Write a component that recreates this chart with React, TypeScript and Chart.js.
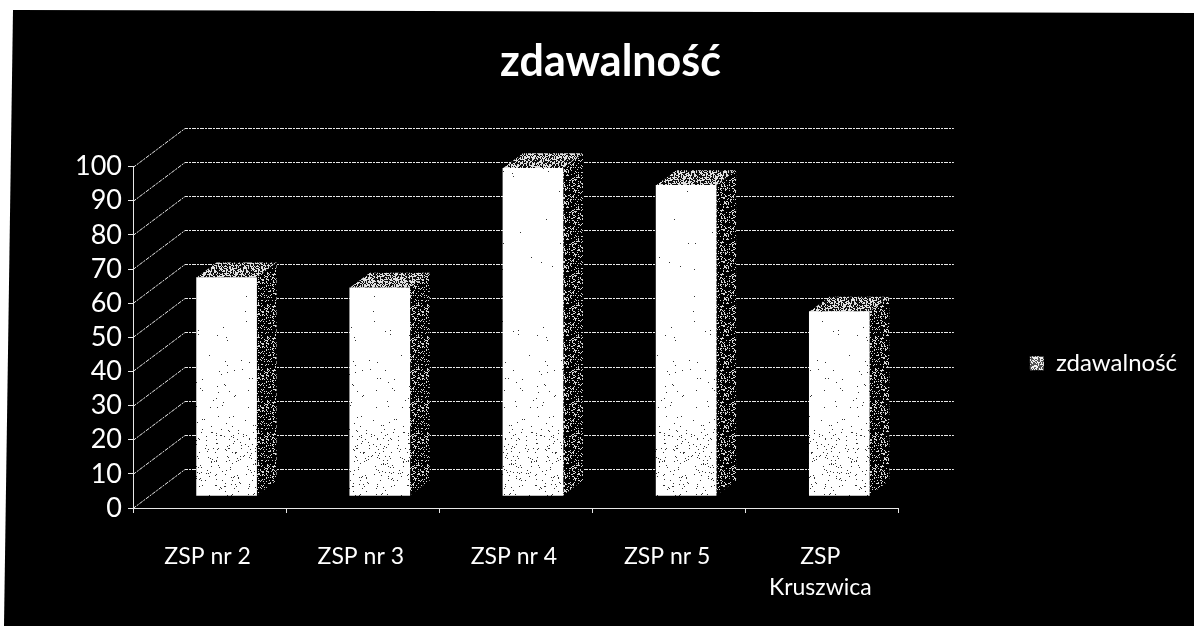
import React, { useEffect, useRef } from "react";
import { Chart, registerables } from "chart.js";

Chart.register(...registerables);

const categories: (string | string[])[] = ["ZSP nr 2", "ZSP nr 3", "ZSP nr 4", "ZSP nr 5", ["ZSP", "Kruszwica"]];
const seriesName = "zdawalność";
const passRates = [64, 61, 96, 91, 54];

const FONT = "Lato, 'Open Sans', sans-serif";

function speckle(
  density: (y: number) => number,
  fg: string,
  bg: string,
  w = 32,
  h = 32
): CanvasPattern | string {
  const c = document.createElement("canvas");
  c.width = w;
  c.height = h;
  const g = c.getContext("2d");
  if (!g) return bg;
  g.fillStyle = bg;
  g.fillRect(0, 0, w, h);
  g.fillStyle = fg;
  let s = 12345;
  for (let y = 0; y < h; y++) {
    for (let x = 0; x < w; x++) {
      s = (s * 1103515245 + 12345) & 0x7fffffff;
      if (((s >> 16) % 1000) / 10 < density(y)) g.fillRect(x, y, 1, 1);
    }
  }
  return g.createPattern(c, "repeat") || bg;
}

const DEPTH_WALL = { dx: 52, dy: -39 };
const BAR_SHIFT = { dx: 17, dy: -12 };
const BAR_DEPTH = { dx: 20, dy: -15 };

const wallPlugin = {
  id: "wall3d",
  beforeDatasetsDraw(chart: any) {
    const { ctx, chartArea, scales } = chart;
    const y = scales.y;
    ctx.save();
    ctx.strokeStyle = "#e8e8e8";
    ctx.lineWidth = 1;
    ctx.setLineDash([4, 1, 2, 1]);
    y.ticks.forEach((t: any) => {
      const py = Math.round(y.getPixelForValue(t.value)) + 0.5;
      ctx.beginPath();
      ctx.moveTo(chartArea.left, py);
      ctx.lineTo(chartArea.left + DEPTH_WALL.dx, py + DEPTH_WALL.dy);
      ctx.lineTo(chartArea.right + DEPTH_WALL.dx + 3, py + DEPTH_WALL.dy);
      ctx.stroke();
    });
    ctx.restore();

    const sidePattern = speckle(() => 22, "#d8d8d8", "#000000");
    const topPattern = speckle(() => 50, "#e0e0e0", "#111111");
    const meta = chart.getDatasetMeta(0);
    ctx.save();
    ctx.translate(BAR_SHIFT.dx, BAR_SHIFT.dy);
    meta.data.forEach((bar: any) => {
      const half = bar.width / 2;
      const l = bar.x - half;
      const r = bar.x + half;
      const t = bar.y;
      const b = bar.base;
      ctx.fillStyle = sidePattern;
      ctx.beginPath();
      ctx.moveTo(r, t);
      ctx.lineTo(r + BAR_DEPTH.dx, t + BAR_DEPTH.dy);
      ctx.lineTo(r + BAR_DEPTH.dx, b + BAR_DEPTH.dy);
      ctx.lineTo(r, b);
      ctx.closePath();
      ctx.fill();
      ctx.fillStyle = topPattern;
      ctx.beginPath();
      ctx.moveTo(l, t);
      ctx.lineTo(l + BAR_DEPTH.dx, t + BAR_DEPTH.dy);
      ctx.lineTo(r + BAR_DEPTH.dx, t + BAR_DEPTH.dy);
      ctx.lineTo(r, t);
      ctx.closePath();
      ctx.fill();
    });
    ctx.restore();
    ctx.save();
    ctx.translate(BAR_SHIFT.dx, BAR_SHIFT.dy);
  },
  afterDatasetsDraw(chart: any) {
    chart.ctx.restore();
  },
};

export default function App() {
  const ref = useRef<HTMLCanvasElement>(null);
  useEffect(() => {
    if (!ref.current) return;
    document.body.style.margin = "0";
    const legendSwatch = speckle(() => 45, "#f0f0f0", "#555555");
    const barFill = speckle(
      (py) => (py > 440 ? 3.5 : py > 370 ? 1 : 0.2),
      "#333333",
      "#ffffff",
      64,
      626
    );
    const chart = new Chart(ref.current, {
      type: "bar",
      data: {
        labels: categories as any,
        datasets: [
          {
            label: seriesName,
            data: passRates,
            backgroundColor: barFill,
            barThickness: 60,
          },
        ],
      },
      plugins: [wallPlugin],
      options: {
        animation: false,
        responsive: false,
        layout: { padding: { left: 34, top: 10, right: 7, bottom: 8 } },
        plugins: {
          title: {
            display: true,
            text: seriesName,
            color: "#ffffff",
            font: { family: FONT, size: 43, weight: "bold" },
            padding: { top: 26, bottom: 79 },
          },
          legend: {
            position: "right",
            title: {
              display: true,
              text: " ",
              color: "#000000",
              font: { size: 12 },
              padding: { top: 0, bottom: 84 },
            },
            labels: {
              color: "#ffffff",
              font: { family: FONT, size: 24 },
              boxWidth: 14,
              boxHeight: 14,
              padding: 131,
              generateLabels: (c: any) =>
                Chart.defaults.plugins.legend.labels.generateLabels(c).map((i: any) => ({
                  ...i,
                  fillStyle: legendSwatch,
                  lineWidth: 0,
                })),
            },
          },
          tooltip: { enabled: false },
        },
        scales: {
          x: {
            afterFit: (s: any) => {
              s.height = 110;
            },
            grid: { drawOnChartArea: false, color: "#e8e8e8", tickLength: 5, offset: true },
            border: { color: "#e8e8e8", dash: [4, 1, 2, 1] },
            ticks: {
              color: "#ffffff",
              font: { family: FONT, size: 23, lineHeight: 1.35 },
              padding: 28,
              labelOffset: -2,
              maxRotation: 0,
              autoSkip: false,
            },
          },
          y: {
            min: 0,
            max: 100,
            afterFit: (s: any) => {
              s.width = 99;
            },
            grid: { drawOnChartArea: false, color: "#e8e8e8", tickLength: 5 },
            border: { color: "#e8e8e8", dash: [2, 1] },
            ticks: {
              stepSize: 10,
              autoSkip: false,
              color: "#ffffff",
              font: { family: FONT, size: 27 },
              padding: 6,
            },
          },
        },
      } as any,
    });
    return () => chart.destroy();
  }, []);
  return (
    <div style={{ position: "relative", width: 1194, height: 626, background: "#fff", overflow: "hidden" }}>
      <div
        style={{
          position: "absolute",
          inset: 0,
          background: "#000",
          clipPath: "polygon(13px 10px, 1194px 13px, 1194px 626px, 4px 626px)",
        }}
      />
      <canvas ref={ref} width={1194} height={626} style={{ position: "absolute", left: 0, top: 0 }} />
    </div>
  );
}
